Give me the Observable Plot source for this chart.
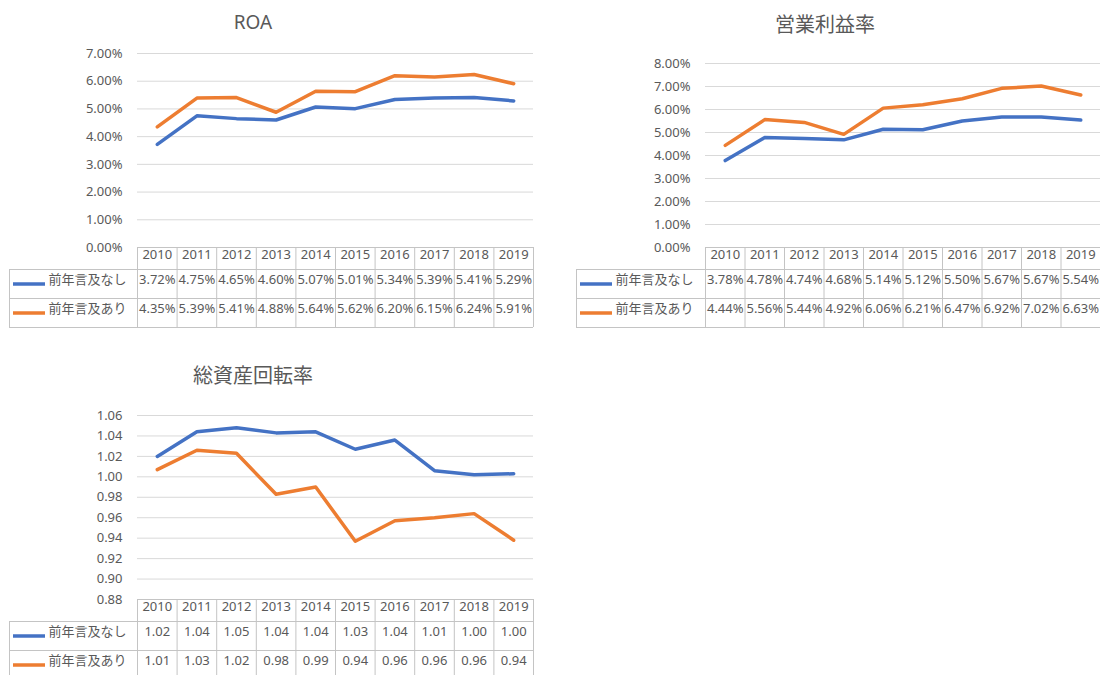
<!DOCTYPE html>
<html><head><meta charset="utf-8">
<script src="https://cdn.jsdelivr.net/npm/d3@7"></script>
<script src="https://cdn.jsdelivr.net/npm/@observablehq/plot@0.6"></script>
<style>
body{margin:0;background:#fff;width:1100px;height:675px;overflow:hidden;position:relative;font-family:"Noto Sans","Noto Sans CJK JP",sans-serif;}
.title{position:absolute;width:300px;text-align:center;color:#595959;white-space:nowrap;}
.chart{position:absolute;}
</style></head><body>
<script>
const years = [2010, 2011, 2012, 2013, 2014, 2015, 2016, 2017, 2018, 2019];
const seriesNames = ["前年言及なし", "前年言及あり"];
const seriesColors = ["#4472C4", "#ED7D31"];

const roaNashi = [3.72, 4.75, 4.65, 4.60, 5.07, 5.01, 5.34, 5.39, 5.41, 5.29];
const roaAri   = [4.35, 5.39, 5.41, 4.88, 5.64, 5.62, 6.20, 6.15, 6.24, 5.91];
const roaTicks = [0, 1, 2, 3, 4, 5, 6, 7];

const opmNashi = [3.78, 4.78, 4.74, 4.68, 5.14, 5.12, 5.50, 5.67, 5.67, 5.54];
const opmAri   = [4.44, 5.56, 5.44, 4.92, 6.06, 6.21, 6.47, 6.92, 7.02, 6.63];
const opmTicks = [0, 1, 2, 3, 4, 5, 6, 7, 8];

const turnNashi = [1.020, 1.044, 1.048, 1.043, 1.044, 1.027, 1.036, 1.006, 1.002, 1.003];
const turnAri   = [1.007, 1.026, 1.023, 0.983, 0.990, 0.937, 0.957, 0.960, 0.964, 0.938];
const turnTicks = [0.88, 0.90, 0.92, 0.94, 0.96, 0.98, 1.00, 1.02, 1.04, 1.06];

const pctFmt = d => d.toFixed(2) + "%";
const numFmt = d => d.toFixed(2);

const TEXT = "#595959";
const GRID = "#D9D9D9";
const BORDER = "#C4C4C4";
const FS = 13;

function makeChart(cfg) {
  const {title, titleX, titleY, titleSize, left, top, width, height,
         marginLeft, marginRight, marginTop, marginBottom, legendW,
         ticks, fmt, nashi, ari} = cfg;
  const data = years.flatMap((yr, i) => [
    {year: yr, series: seriesNames[0], value: nashi[i]},
    {year: yr, series: seriesNames[1], value: ari[i]}
  ]);
  const edges = [years[0] - 0.5, ...years.map(y => y + 0.5)];
  const frameH = height - marginTop - marginBottom;
  const frameW = width - marginLeft - marginRight;
  const yMin = ticks[0];
  // table row boundaries (px below the frame) and row centres
  const HB = 22, R1 = 51, R2 = 80;
  const C0 = 11, C1 = 36.5, C2 = 65.5;
  const b = {stroke: BORDER, strokeWidth: 1};
  const rows = [[nashi, C1], [ari, C2]];

  const marks = [
    Plot.gridY(ticks, {stroke: GRID, strokeOpacity: 1, strokeWidth: 1}),
    Plot.axisY(ticks, {tickFormat: fmt, tickSize: 0, tickPadding: 15, fontSize: FS, label: null}),
    // data table grid
    Plot.ruleX(edges, {x: d => d, insetTop: frameH, insetBottom: -R2, ...b}),
    Plot.ruleX([edges[0]], {x: d => d, dx: -legendW, insetTop: frameH + HB, insetBottom: -R2, ...b}),
    Plot.ruleY([yMin], {y: d => d, ...b}),
    Plot.ruleY([yMin], {y: d => d, dy: HB, insetLeft: -legendW, ...b}),
    Plot.ruleY([yMin], {y: d => d, dy: R1, insetLeft: -legendW, ...b}),
    Plot.ruleY([yMin], {y: d => d, dy: R2, insetLeft: -legendW, ...b}),
    // header row (categories)
    Plot.text(years, {x: d => d, text: d => String(d), frameAnchor: "bottom", dy: C0, fontSize: FS, fill: TEXT}),
  ];
  rows.forEach(([vals, cy], i) => {
    marks.push(
      Plot.ruleY([yMin], {y: d => d, dy: cy, insetLeft: -(legendW - 4), insetRight: frameW + legendW - 36,
        stroke: seriesColors[i], strokeWidth: 3.5}),
      Plot.text([seriesNames[i]], {frameAnchor: "bottom-left", textAnchor: "start", dx: -(legendW - 39), dy: cy,
        fontSize: FS, fill: TEXT}),
      Plot.text(years.map((yr, j) => ({year: yr, v: vals[j]})), {x: "year", text: d => fmt(d.v),
        frameAnchor: "bottom", dy: cy, fontSize: FS, fill: TEXT})
    );
  });
  marks.push(
    Plot.line(data, {x: "year", y: "value", stroke: "series", strokeWidth: 3.5,
      strokeLinejoin: "round", strokeLinecap: "round"})
  );

  const svg = Plot.plot({
    width, height, marginLeft, marginRight, marginTop, marginBottom,
    x: {type: "linear", domain: [edges[0], edges[edges.length - 1]], axis: null},
    y: {domain: [ticks[0], ticks[ticks.length - 1]], label: null},
    color: {domain: seriesNames, range: seriesColors},
    style: {fontFamily: '"Noto Sans","Noto Sans CJK JP",sans-serif', fontSize: FS + "px", color: TEXT, background: "transparent", overflow: "visible"},
    marks
  });
  const wrap = document.createElement("div");
  wrap.className = "chart";
  wrap.style.left = left + "px";
  wrap.style.top = top + "px";
  wrap.appendChild(svg);
  document.body.appendChild(wrap);

  const t = document.createElement("div");
  t.className = "title";
  t.textContent = title;
  t.style.fontSize = titleSize + "px";
  t.style.lineHeight = (titleSize * 1.2) + "px";
  t.style.left = (titleX - 150) + "px";
  t.style.top = (titleY - titleSize * 0.6) + "px";
  document.body.appendChild(t);
}

makeChart({title: "ROA", titleX: 253, titleY: 22, titleSize: 19,
  left: 0, top: 40, width: 550, height: 295,
  marginLeft: 137, marginRight: 17, marginTop: 13, marginBottom: 88, legendW: 128,
  ticks: roaTicks, fmt: pctFmt, nashi: roaNashi, ari: roaAri});

makeChart({title: "営業利益率", titleX: 825, titleY: 25, titleSize: 20,
  left: 560, top: 40, width: 540, height: 295,
  marginLeft: 145, marginRight: 0, marginTop: 23, marginBottom: 88, legendW: 129,
  ticks: opmTicks, fmt: pctFmt, nashi: opmNashi, ari: opmAri});

makeChart({title: "総資産回転率", titleX: 253, titleY: 376, titleSize: 20,
  left: 0, top: 395, width: 550, height: 280,
  marginLeft: 137, marginRight: 17, marginTop: 20, marginBottom: 76, legendW: 128,
  ticks: turnTicks, fmt: numFmt, nashi: turnNashi, ari: turnAri});
</script>
</body></html>
